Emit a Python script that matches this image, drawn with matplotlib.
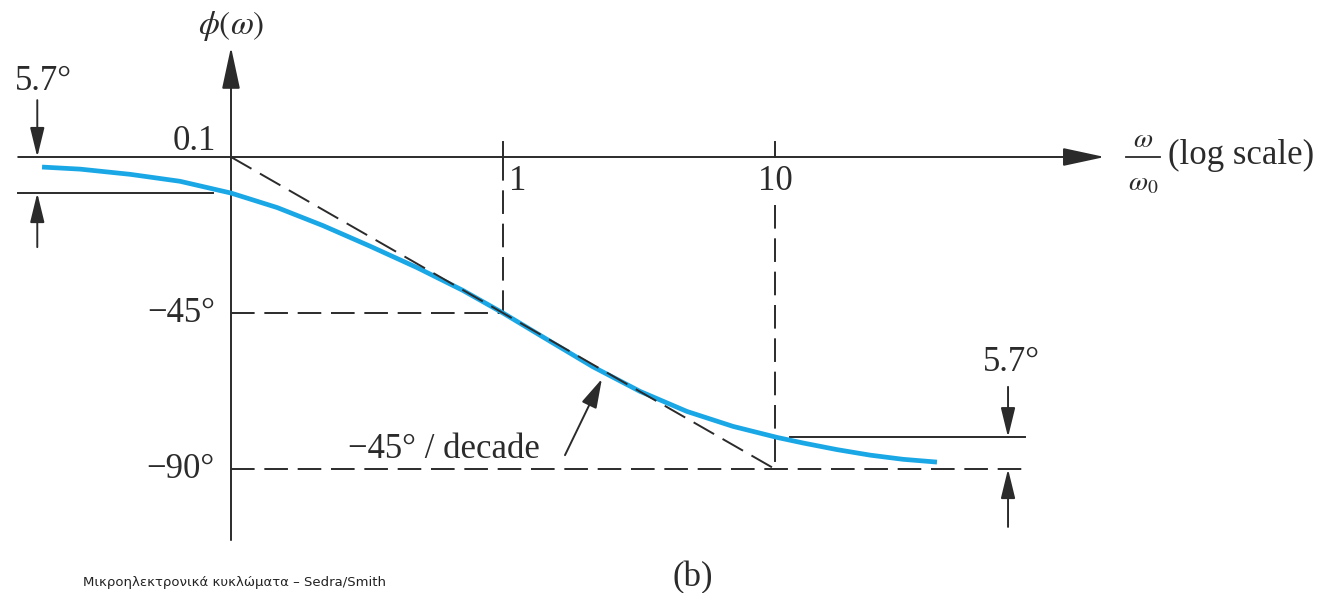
import numpy as np
import matplotlib.pyplot as plt
from matplotlib.patches import FancyArrowPatch

plt.rcParams['font.family'] = ['Liberation Serif', 'DejaVu Serif']
plt.rcParams['mathtext.fontset'] = 'stix'
plt.rcParams['lines.scale_dashes'] = False

# Phase response (w/w0, degrees)
w_curve = [0.0202, 0.0279, 0.0426, 0.0649, 0.1, 0.148, 0.218, 0.324, 0.483, 0.713,
           1.0, 1.45, 2.14, 3.19, 4.75, 7.01, 10.2, 12.7, 16.9, 22.4, 29.6, 39.4]
phi_curve = [-2.9, -3.5, -5.0, -7.0, -10.4, -14.6, -19.8, -25.7, -31.9, -38.5,
             -45.0, -52.6, -60.5, -67.6, -73.4, -77.7, -80.9, -82.5, -84.4, -86.0, -87.2, -88.0]

# Straight-line approximation: 0 up to 0.1, -45/decade, -90 after 10
w_asym = [0.1, 1.0, 10.0]
phi_asym = [0.0, -45.0, -90.0]

tick_w = [0.1, 1, 10]
tick_labels = ['0.1', '1', '10']
phase_ticks = [-45, -90]
phase_labels = ['\u221245\u00b0', '\u221290\u00b0']

ink = '#2b2b2b'
blue = '#1aa7e6'
dash = (0, (17, 7))
fs = 25

fig = plt.figure(figsize=(13.25, 5.93), dpi=100)
ax = fig.add_axes([0, 0, 1, 1])
ax.set_xscale('log')
ax.set_xlim(10 ** (-1 - 231 / 272), 10 ** (-1 + 1094 / 272))
ax.set_ylim(-436 / 3.467, 157 / 3.467)
ax.axis('off')


def arrow(p0, p1, style='-|>,head_length=0.9,head_width=0.22', lw=1.4, **kw):
    a = FancyArrowPatch(p0, p1, arrowstyle=style, mutation_scale=20, lw=lw,
                        color=ink, shrinkA=0, shrinkB=0, **kw)
    ax.add_patch(a)


# axes
arrow((0.0165, 0), (163, 0), style='-|>,head_length=1.3,head_width=0.28')
arrow((0.1, -110.5), (0.1, 31.7), style='-|>,head_length=1.3,head_width=0.28')
ax.text(0.1, 37.8, r'$\phi(\omega)$', fontsize=24, ha='center', va='center', color=ink)
ax.text(225, 4.9, r'$\omega$', fontsize=20, ha='center', va='center', color=ink)
ax.text(225, -7.8, r'$\omega_0$', fontsize=20, ha='center', va='center', color=ink)
ax.plot([195, 260], [0, 0], color=ink, lw=1.3)
ax.text(278, 0.5, '(log scale)', fontsize=fs, ha='left', va='center', color=ink)

# frequency ticks and labels
for w, lab in zip(tick_w, tick_labels):
    if w == 0.1:
        ax.text(0.088, 4.6, lab, fontsize=fs, ha='right', va='center', color=ink)
    else:
        ax.plot([w, w], [0, 4.3], color=ink, lw=1.4)
        ax.text(w * 1.13 if w == 1 else w, -7.2, lab, fontsize=fs,
                ha='center', va='center', color=ink)

# phase guides
for p, lab in zip(phase_ticks, phase_labels):
    ax.text(0.0873, p, lab, fontsize=fs, ha='right', va='center', color=ink)
ax.plot([0.1, 1], [-45, -45], color=ink, lw=1.4, linestyle=dash)
ax.plot([0.1, 86.6], [-90, -90], color=ink, lw=1.4, linestyle=dash)
ax.plot([1, 1], [0, -45], color=ink, lw=1.4, linestyle=dash)
ax.plot([10, 10], [-13.8, -90], color=ink, lw=1.4, linestyle=dash)

# actual response, with the asymptotes drawn over it
ax.plot(w_curve, phi_curve, color=blue, lw=3.4, solid_capstyle='butt',
        solid_joinstyle='round', zorder=3)
ax.plot(w_asym, phi_asym, color=ink, lw=1.4, linestyle=dash, zorder=4)

# slope callout
ax.text(1.368, -84.5, '\u221245\u00b0 / decade', fontsize=fs, ha='right', va='center', color=ink)
arrow((1.69, -86.0), (2.31, -64.0), style='-|>,head_length=0.9,head_width=0.25')

# 5.7 degree markers at both ends
ax.text(0.0205, 21.9, '5.7\u00b0', fontsize=fs, ha='center', va='center', color=ink)
ax.plot([0.0165, 0.086], [-10.4, -10.4], color=ink, lw=1.4)
arrow((0.0194, 16.4), (0.0194, 0))
arrow((0.0194, -26.0), (0.0194, -10.4))

ax.text(74.3, -59.4, '5.7\u00b0', fontsize=fs, ha='center', va='center', color=ink)
ax.plot([11.35, 83.0], [-80.8, -80.8], color=ink, lw=1.4)
arrow((71.9, -66.3), (71.9, -80.8))
arrow((71.9, -106.7), (71.9, -90))

ax.text(5.0, -121.4, '(b)', fontsize=fs, ha='center', va='center', color=ink)
fig.text(0.0626, 0.0185, 'Μικροηλεκτρονικά κυκλώματα – Sedra/Smith', fontsize=9.5,
         family='DejaVu Sans', ha='left', va='center', color='#222222')

fig.savefig('out.png', dpi=100)
